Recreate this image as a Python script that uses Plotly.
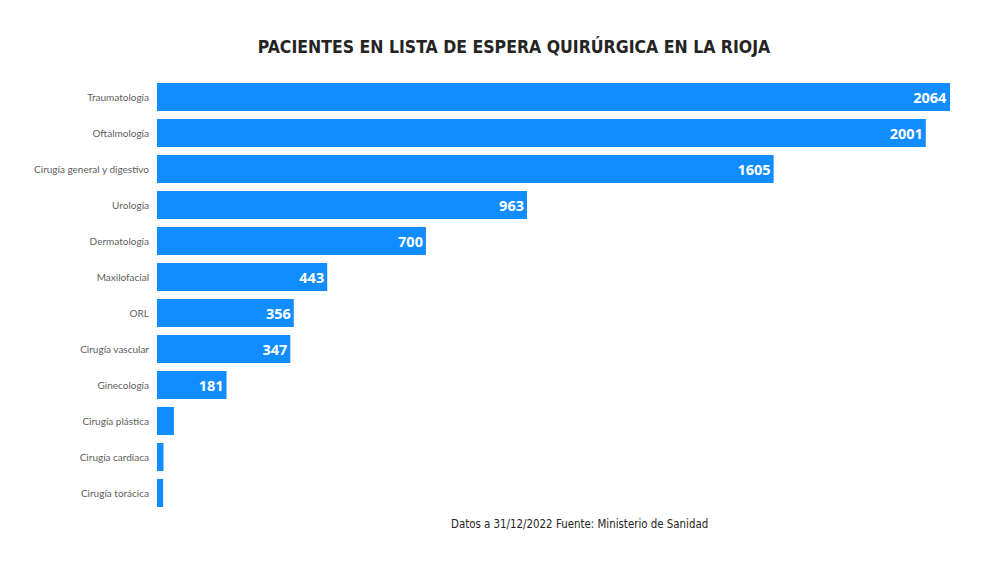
import plotly.graph_objects as go

categories = ["Traumatología", "Oftalmología", "Cirugía general y digestivo", "Urología",
              "Dermatología", "Maxilofacial", "ORL", "Cirugía vascular", "Ginecología",
              "Cirugía plástica", "Cirugía cardiaca", "Cirugía torácica"]
values = [2064, 2001, 1605, 963, 700, 443, 356, 347, 181, 44, 17, 16]
labels = [str(v) if v >= 100 else "" for v in values]

fig = go.Figure(go.Bar(
    y=categories, x=values, orientation="h",
    marker=dict(color="#118DFF", line=dict(width=0)),
    text=labels, textposition="inside", insidetextanchor="end",
    textangle=0, constraintext="none",
    insidetextfont=dict(family="Open Sans", size=14.5, color="white", weight="bold"),
    hoverinfo="skip",
))

fig.update_layout(
    width=1000, height=567,
    margin=dict(l=149, r=58, t=71, b=64, autoexpand=False),
    paper_bgcolor="white", plot_bgcolor="white",
    bargap=0.22,
    showlegend=False,
    title=dict(text="PACIENTES EN LISTA DE ESPERA QUIRÚRGICA EN LA RIOJA",
               x=0.506, xanchor="center", y=0.931, yanchor="middle",
               font=dict(family="DejaVu Sans Condensed", size=17.5, color="#252423", weight="bold")),
    annotations=[dict(text="Datos a 31/12/2022 Fuente: Ministerio de Sanidad",
                      xref="paper", yref="paper", x=0.533, y=-0.030, xanchor="center", yanchor="middle",
                      showarrow=False,
                      font=dict(family="DejaVu Sans Condensed", size=11.4, color="#252423"))],
)
fig.update_xaxes(range=[0, 2064], visible=False, showgrid=False, zeroline=False)
fig.update_yaxes(autorange="reversed", showgrid=False, zeroline=False, showline=False,
                 ticks="", ticklabelstandoff=7, automargin=False,
                 tickfont=dict(family="Lato", size=10, color="#605E5C"))

fig.write_html("out.html")
